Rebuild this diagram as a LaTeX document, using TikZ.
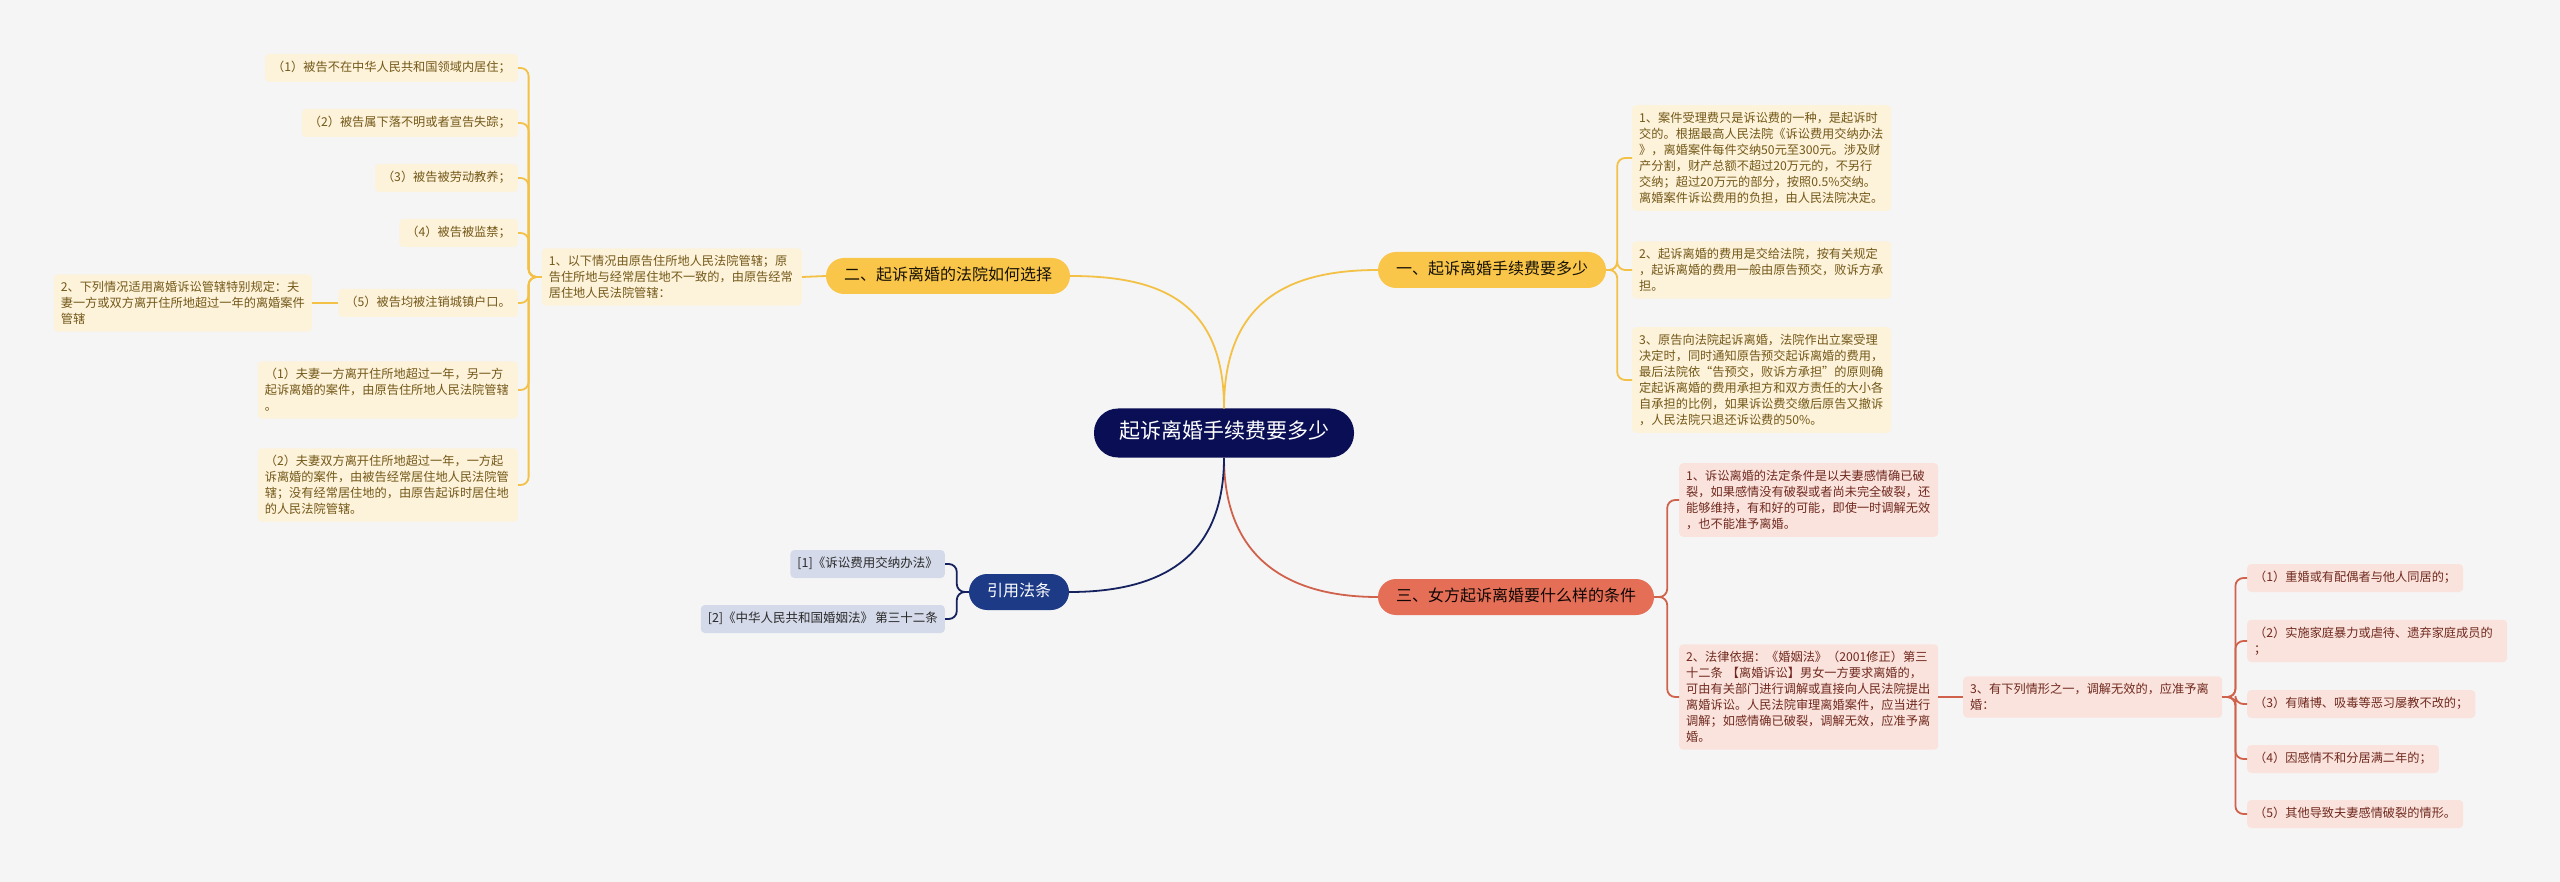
\documentclass[tikz,border=0pt]{standalone}
\usepackage{fontspec}
\setmainfont{Noto Sans CJK SC}
\usetikzlibrary{positioning}

\definecolor{bgcol}{HTML}{F5F5F5}
\definecolor{navyfill}{HTML}{0A0F55}
\definecolor{ylfill}{HTML}{FAC649}
\definecolor{ylline}{HTML}{F3C146}
\definecolor{ylleaf}{HTML}{FDF2DA}
\definecolor{yltext}{HTML}{735818}
\definecolor{rdfill}{HTML}{E46F56}
\definecolor{rdline}{HTML}{D0624C}
\definecolor{rdleaf}{HTML}{FAE3DD}
\definecolor{rdtext}{HTML}{70291E}
\definecolor{blfill}{HTML}{1D3A87}
\definecolor{blline}{HTML}{15225F}
\definecolor{blleaf}{HTML}{D5DAEA}
\definecolor{bltext}{HTML}{2A2A2A}

\begin{document}
\begin{tikzpicture}[x=1pt, y=-1pt,
  rootnode/.style = {fill=navyfill, text=white, rounded corners=24pt, inner xsep=25pt, inner ysep=15pt,
    text height=15pt, text depth=4pt, font=\fontsize{21}{25}\selectfont},
  branch/.style = {rounded corners=18pt, inner xsep=18pt, inner ysep=10.5pt,
    text height=12pt, text depth=3pt, font=\fontsize{16}{19}\selectfont},
  leaf/.style = {rounded corners=4pt, inner xsep=7pt, inner ysep=8pt,
    text height=9.5pt, text depth=2.5pt, font=\fontsize{12.2}{16}\selectfont},
  para/.style = {rounded corners=4pt, inner xsep=7pt, inner ysep=7pt, align=left,
    font=\fontsize{12.2}{16}\selectfont},
  yleaf/.style = {fill=ylleaf, text=yltext},
  rleaf/.style = {fill=rdleaf, text=rdtext},
  bleaf/.style = {fill=blleaf, text=bltext},
  yline/.style = {draw=ylline, line width=1.8pt},
  rline/.style = {draw=rdline, line width=1.8pt},
  bline/.style = {draw=blline, line width=1.8pt}
]
\fill[bgcol] (0,0) rectangle (2560,882);
\useasboundingbox (0,0) rectangle (2560,882);

\node[rootnode] (n0) at (1224,433) {起诉离婚手续费要多少};

\node[branch, fill=ylfill, text=black!80!yltext] (n1) at (1492,270) {一、起诉离婚手续费要多少};
\node[branch, fill=ylfill, text=black!80!yltext, minimum width=243pt] (n2) at (948,276) {二、起诉离婚的法院如何选择};
\node[branch, fill=rdfill, text=black!85!rdtext] (n3) at (1516,597) {三、女方起诉离婚要什么样的条件};
\node[branch, fill=blfill, text=white] (n4) at (1019,592) {引用法条};

\node[para, yleaf, text width=245pt, anchor=west] (n11) at (1632,158) {1、案件受理费只是诉讼费的一种，是起诉时\\交的。根据最高人民法院《诉讼费用交纳办法\\》，离婚案件每件交纳50元至300元。涉及财\\产分割，财产总额不超过20万元的，不另行\\交纳；超过20万元的部分，按照0.5\%交纳。\\离婚案件诉讼费用的负担，由人民法院决定。};
\node[para, yleaf, text width=245pt, anchor=west] (n12) at (1632,270) {2、起诉离婚的费用是交给法院，按有关规定\\，起诉离婚的费用一般由原告预交，败诉方承\\担。};
\node[para, yleaf, text width=245pt, anchor=west] (n13) at (1632,380) {3、原告向法院起诉离婚，法院作出立案受理\\决定时，同时通知原告预交起诉离婚的费用，\\最后法院依“告预交，败诉方承担”的原则确\\定起诉离婚的费用承担方和双方责任的大小各\\自承担的比例，如果诉讼费交缴后原告又撤诉\\，人民法院只退还诉讼费的50\%。};

\node[para, yleaf, text width=246pt, anchor=east] (n21) at (802,277) {1、以下情况由原告住所地人民法院管辖；原\\告住所地与经常居住地不一致的，由原告经常\\居住地人民法院管辖：};
\node[leaf, yleaf, anchor=east] (n211) at (518,68) {（1）被告不在中华人民共和国领域内居住；};
\node[leaf, yleaf, anchor=east] (n212) at (518,123) {（2）被告属下落不明或者宣告失踪；};
\node[leaf, yleaf, anchor=east] (n213) at (518,178) {（3）被告被劳动教养；};
\node[leaf, yleaf, anchor=east] (n214) at (518,233) {（4）被告被监禁；};
\node[leaf, yleaf, anchor=east] (n215) at (518,303) {（5）被告均被注销城镇户口。};
\node[para, yleaf, text width=244pt, anchor=east] (n2151) at (312,303) {2、下列情况适用离婚诉讼管辖特别规定：夫\\妻一方或双方离开住所地超过一年的离婚案件\\管辖};
\node[para, yleaf, text width=246pt, anchor=east] (n216) at (518,390) {（1）夫妻一方离开住所地超过一年，另一方\\起诉离婚的案件，由原告住所地人民法院管辖\\。};
\node[para, yleaf, text width=246pt, anchor=east] (n217) at (518,485) {（2）夫妻双方离开住所地超过一年，一方起\\诉离婚的案件，由被告经常居住地人民法院管\\辖；没有经常居住地的，由原告起诉时居住地\\的人民法院管辖。};

\node[para, rleaf, text width=245pt, anchor=west] (n31) at (1679,500) {1、诉讼离婚的法定条件是以夫妻感情确已破\\裂，如果感情没有破裂或者尚未完全破裂，还\\能够维持，有和好的可能，即使一时调解无效\\，也不能准予离婚。};
\node[para, rleaf, text width=245pt, anchor=west] (n32) at (1679,697) {2、法律依据：《婚姻法》（2001修正）第三\\十二条 【离婚诉讼】男女一方要求离婚的，\\可由有关部门进行调解或直接向人民法院提出\\离婚诉讼。人民法院审理离婚案件，应当进行\\调解；如感情确已破裂，调解无效，应准予离\\婚。};
\node[para, rleaf, text width=245pt, anchor=west] (n321) at (1963,697) {3、有下列情形之一，调解无效的，应准予离\\婚：};
\node[leaf, rleaf, anchor=west] (n3211) at (2247,578) {（1）重婚或有配偶者与他人同居的；};
\node[para, rleaf, text width=246pt, anchor=west] (n3212) at (2247,641) {（2）实施家庭暴力或虐待、遗弃家庭成员的\\；};
\node[leaf, rleaf, anchor=west] (n3213) at (2247,704) {（3）有赌博、吸毒等恶习屡教不改的；};
\node[leaf, rleaf, anchor=west] (n3214) at (2247,759) {（4）因感情不和分居满二年的；};
\node[leaf, rleaf, anchor=west] (n3215) at (2247,814) {（5）其他导致夫妻感情破裂的情形。};

\node[leaf, bleaf, anchor=east, font=\fontsize{12.5}{16}\selectfont] (n41) at (945,564) {[1]《诉讼费用交纳办法》};
\node[leaf, bleaf, anchor=east, font=\fontsize{12.5}{16}\selectfont] (n42) at (945,619) {[2]《中华人民共和国婚姻法》\,第三十二条};

\draw[yline] (n0.north) .. controls (1224,300) and (1290,270) .. (n1.west);
\draw[yline] (n0.north) .. controls (1224,300) and (1158,276) .. (n2.east);
\draw[rline] (n0.south) .. controls (1224,560) and (1290,597) .. (n3.west);
\draw[bline] (n0.south) .. controls (1224,560) and (1158,592) .. (n4.east);

\foreach \c in {n11,n12,n13}
  \draw[yline, rounded corners=8pt] (n1.east) -- ++(11,0) |- (\c.west);
\draw[yline] (n2.west) -- (n21.east);
\foreach \c in {n211,n212,n213,n214,n215,n216,n217}
  \draw[yline, rounded corners=8pt] (n21.west) -- ++(-13,0) |- (\c.east);
\draw[yline] (n215.west) -- (n2151.east);

\foreach \c in {n31,n32}
  \draw[rline, rounded corners=8pt] (n3.east) -- ++(13,0) |- (\c.west);
\draw[rline] (n32.east) -- (n321.west);
\foreach \c in {n3211,n3212,n3213,n3214,n3215}
  \draw[rline, rounded corners=8pt] (n321.east) -- ++(13,0) |- (\c.west);

\foreach \c in {n41,n42}
  \draw[bline, rounded corners=8pt] (n4.west) -- ++(-12,0) |- (\c.east);
\end{tikzpicture}
\end{document}
